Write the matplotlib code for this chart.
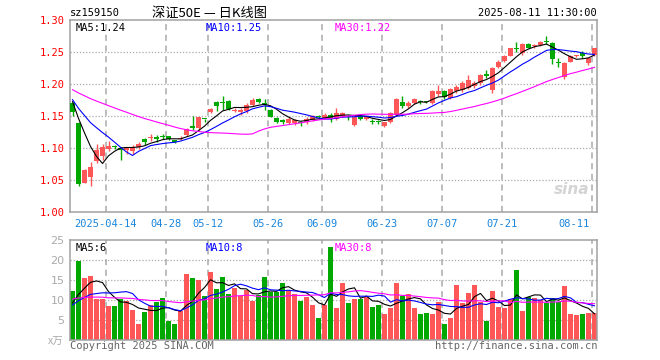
import numpy as np
import pandas as pd
import matplotlib
matplotlib.use('Agg')
import matplotlib.pyplot as plt

# 日K数据 (2025-04-03 .. 2025-08-11), 读图估计
opens = [1.170, 1.139, 1.046, 1.054, 1.080, 1.088, 1.099, 1.103, 1.100, 1.097,
         1.096, 1.101, 1.114, 1.116, 1.117, 1.119, 1.118, 1.112, 1.114, 1.121,
         1.134, 1.131, 1.146, 1.156, 1.172, 1.172, 1.174, 1.158, 1.156, 1.158,
         1.167, 1.176, 1.171, 1.160, 1.147, 1.144, 1.139, 1.139, 1.141, 1.140,
         1.144, 1.149, 1.147, 1.152, 1.146, 1.150, 1.150, 1.136, 1.150, 1.146,
         1.142, 1.141, 1.135, 1.141, 1.152, 1.172, 1.165, 1.170, 1.173, 1.173,
         1.170, 1.184, 1.189, 1.178, 1.189, 1.190, 1.194, 1.197, 1.201, 1.215,
         1.190, 1.227, 1.236, 1.244, 1.256, 1.248, 1.263, 1.260, 1.261, 1.267,
         1.264, 1.235, 1.211, 1.235, 1.244, 1.248, 1.233, 1.245]
highs = [1.172, 1.140, 1.067, 1.078, 1.106, 1.106, 1.111, 1.104, 1.101, 1.102,
         1.104, 1.110, 1.115, 1.122, 1.121, 1.122, 1.119, 1.113, 1.118, 1.132,
         1.150, 1.149, 1.146, 1.163, 1.173, 1.181, 1.175, 1.163, 1.163, 1.170,
         1.178, 1.178, 1.177, 1.161, 1.148, 1.145, 1.149, 1.146, 1.142, 1.148,
         1.151, 1.152, 1.155, 1.154, 1.162, 1.157, 1.152, 1.149, 1.152, 1.150,
         1.146, 1.143, 1.141, 1.156, 1.178, 1.181, 1.174, 1.178, 1.175, 1.174,
         1.190, 1.199, 1.190, 1.193, 1.199, 1.204, 1.214, 1.205, 1.215, 1.222,
         1.227, 1.237, 1.245, 1.257, 1.265, 1.264, 1.264, 1.263, 1.267, 1.275,
         1.266, 1.240, 1.235, 1.245, 1.246, 1.251, 1.241, 1.257]
lows = [1.150, 1.040, 1.045, 1.041, 1.077, 1.081, 1.096, 1.098, 1.082, 1.090,
        1.091, 1.098, 1.105, 1.111, 1.110, 1.114, 1.112, 1.108, 1.112, 1.119,
        1.128, 1.128, 1.140, 1.154, 1.158, 1.160, 1.160, 1.156, 1.152, 1.155,
        1.165, 1.170, 1.160, 1.148, 1.139, 1.138, 1.137, 1.136, 1.134, 1.138,
        1.142, 1.145, 1.145, 1.141, 1.143, 1.148, 1.144, 1.135, 1.143, 1.144,
        1.137, 1.137, 1.133, 1.139, 1.150, 1.163, 1.163, 1.168, 1.168, 1.170,
        1.168, 1.182, 1.176, 1.177, 1.186, 1.188, 1.192, 1.194, 1.199, 1.210,
        1.186, 1.225, 1.234, 1.243, 1.250, 1.245, 1.256, 1.257, 1.259, 1.263,
        1.232, 1.227, 1.208, 1.234, 1.242, 1.240, 1.230, 1.243]
closes = [1.157, 1.043, 1.066, 1.071, 1.097, 1.102, 1.103, 1.101, 1.097, 1.101,
          1.102, 1.107, 1.110, 1.117, 1.114, 1.117, 1.114, 1.110, 1.116, 1.130,
          1.132, 1.148, 1.145, 1.161, 1.165, 1.170, 1.161, 1.160, 1.160, 1.167,
          1.175, 1.172, 1.167, 1.149, 1.140, 1.140, 1.146, 1.144, 1.139, 1.146,
          1.150, 1.148, 1.152, 1.147, 1.155, 1.155, 1.149, 1.148, 1.146, 1.148,
          1.141, 1.140, 1.140, 1.154, 1.176, 1.166, 1.170, 1.177, 1.172, 1.172,
          1.189, 1.189, 1.179, 1.192, 1.196, 1.201, 1.206, 1.202, 1.214, 1.212,
          1.225, 1.235, 1.243, 1.256, 1.254, 1.263, 1.257, 1.261, 1.266, 1.265,
          1.239, 1.233, 1.233, 1.243, 1.245, 1.243, 1.240, 1.256]
# 成交量 (万)
volumes = [12.2, 19.8, 15.6, 16.0, 10.2, 10.2, 8.5, 8.5, 10.2, 9.7,
           7.5, 4.1, 7.0, 8.7, 9.5, 10.5, 4.8, 4.0, 7.3, 16.6,
           15.6, 15.0, 11.1, 17.0, 12.8, 15.8, 11.5, 13.1, 11.0, 12.5,
           9.8, 11.2, 15.8, 12.0, 12.0, 14.3, 12.6, 11.5, 9.8, 10.8,
           8.8, 5.6, 8.8, 23.3, 8.1, 14.3, 9.3, 10.25, 10.25, 10.8,
           8.3, 8.75, 6.5, 8.1, 14.3, 11.0, 11.5, 8.1, 6.5, 6.75,
           6.5, 9.6, 4.0, 5.6, 13.75, 9.3, 11.8, 13.75, 9.6, 4.8,
           12.25, 8.3, 8.1, 10.25, 17.5, 7.25, 10.8, 10.6, 10.0, 9.2,
           10.6, 9.4, 13.5, 6.5, 6.25, 6.5, 6.75, 6.75]
# 图前29个交易日(用于均线起点)
prior_close = [1.195, 1.200, 1.205, 1.210, 1.208, 1.212, 1.206, 1.203, 1.199, 1.204,
               1.207, 1.201, 1.196, 1.198, 1.193, 1.190, 1.194, 1.188, 1.185,
               1.183, 1.180, 1.178, 1.182, 1.176, 1.178, 1.174, 1.179, 1.177, 1.175]
prior_vol = [12.5, 10.8, 14.2, 9.6, 11.3, 13.1, 8.9, 10.4, 12.0, 9.2,
             11.7, 10.1, 13.4, 9.8, 10.6, 12.2, 8.7, 11.5, 10.3, 9.7,
             8.9, 7.6, 8.4, 8.1, 8.25, 9.1, 7.8, 8.6, 8.55]

tick_idx = [6, 16, 23, 33, 42, 52, 62, 72, 87]
tick_labels = ['2025-04-14', '04-28', '05-12', '05-26', '06-09',
               '06-23', '07-07', '07-21', '08-11']
price_levels = [1.00, 1.05, 1.10, 1.15, 1.20, 1.25, 1.30]
vol_levels = [5, 10, 15, 20, 25]

RED = '#ff5757'
GREEN = '#00a800'
GRID = '#aaaaaa'
MONO = 'DejaVu Sans Mono'
CJK = ['Noto Sans CJK SC', 'DejaVu Sans']

o = np.array(opens)
h = np.array(highs)
l = np.array(lows)
c = np.array(closes)
v = np.array(volumes)
n = len(c)
x = np.arange(n)
up = c >= o
cols = np.where(up, RED, GREEN)

allc = pd.Series(prior_close + closes)
allv = pd.Series(prior_vol + volumes)
ma_p = {k: allc.rolling(k).mean().values[-n:] for k in (5, 10, 30)}
ma_v = {k: allv.rolling(k).mean().values[-n:] for k in (5, 10, 30)}
ma_col = {5: 'black', 10: '#0000ff', 30: '#ff00ff'}

fig = plt.figure(figsize=(6.6, 3.6), dpi=100)
ax = fig.add_axes([70 / 660, 1 - 212 / 360, 527 / 660, 192 / 360])
axv = fig.add_axes([70 / 660, 1 - 340 / 360, 527 / 660, 100 / 360])

off = -0.42  # 网格线在K线左侧
for a in (ax, axv):
    a.set_xlim(-0.42, n - 1 + 0.42)
    for s in a.spines.values():
        s.set_color('#a0a0a0')
        s.set_linewidth(1.1)
    a.set_xticks([])
    a.tick_params(axis='y', length=0, pad=4)
    for t in tick_idx:
        a.axvline(t + off, color=GRID, lw=1.1, ls=(0, (4, 3)), zorder=0)

# K线
ax.set_ylim(1.00, 1.30)
for lv in price_levels[1:-1]:
    ax.axhline(lv, color=GRID, lw=0.9, ls=(0, (1, 1.5)), zorder=0)
ax.vlines(x, l, h, colors=cols, lw=1.0, zorder=2)
body = np.maximum(np.abs(c - o), 0.0017)
ax.bar(x, body, bottom=np.minimum(o, c), width=0.82, color=cols,
       linewidth=0, zorder=3)
for k in (5, 10, 30):
    ax.plot(x, ma_p[k], color=ma_col[k], lw=0.8, zorder=4)
ax.set_yticks(price_levels)
ax.set_yticklabels([f'{lv:.2f}' for lv in price_levels], color='red',
                   fontsize=7.5, family=MONO)

ax.text(0.01, 0.985, 'MA5:1.24', transform=ax.transAxes, color='black',
        fontsize=7.5, family=MONO, va='top')
ax.text(0.257, 0.985, 'MA10:1.25', transform=ax.transAxes, color='#0000ff',
        fontsize=7.5, family=MONO, va='top')
ax.text(0.503, 0.985, 'MA30:1.22', transform=ax.transAxes, color='#ff00ff',
        fontsize=7.5, family=MONO, va='top')
ax.text(0.985, 0.08, 'sina', transform=ax.transAxes, color='#d4d4d4',
        fontsize=11, fontweight='bold', style='italic', ha='right', va='bottom')

# 日期标签
for t, lab in zip(tick_idx, tick_labels):
    if t == tick_idx[-1]:
        ax.annotate(lab, xy=(t + off, 0), xycoords=('data', 'axes fraction'),
                    xytext=(-2, -5), textcoords='offset points', ha='right',
                    va='top', color='#1a86dd', fontsize=7.5, family=MONO)
    else:
        ax.annotate(lab, xy=(t + off, 0), xycoords=('data', 'axes fraction'),
                    xytext=(0, -5), textcoords='offset points', ha='center',
                    va='top', color='#1a86dd', fontsize=7.5, family=MONO)

# 成交量
axv.set_ylim(0, 25)
for lv in vol_levels[:-1]:
    axv.axhline(lv, color=GRID, lw=0.9, ls=(0, (1, 1.5)), zorder=0)
axv.bar(x, v, width=0.82, color=cols, linewidth=0, zorder=2)
for k in (5, 10, 30):
    axv.plot(x, ma_v[k], color=ma_col[k], lw=0.8, zorder=4)
axv.set_yticks(vol_levels)
axv.set_yticklabels([str(lv) for lv in vol_levels], color='#aaaaaa',
                    fontsize=8, family='DejaVu Sans')
axv.text(0.01, 0.97, 'MA5:6', transform=axv.transAxes, color='black',
         fontsize=7.5, family=MONO, va='top')
axv.text(0.257, 0.97, 'MA10:8', transform=axv.transAxes, color='#0000ff',
         fontsize=7.5, family=MONO, va='top')
axv.text(0.503, 0.97, 'MA30:8', transform=axv.transAxes, color='#ff00ff',
         fontsize=7.5, family=MONO, va='top')

# 标题与页脚
fig.text(70 / 660, 1 - 13 / 360, 'sz159150', fontsize=7.5, family=MONO,
         va='center', ha='left')
fig.text(210 / 660, 1 - 13 / 360, '深证50E — 日K线图', fontsize=9.5,
         family=CJK, va='center', ha='center')
fig.text(597 / 660, 1 - 13 / 360, '2025-08-11 11:30:00', fontsize=7.5,
         family=MONO, va='center', ha='right')
fig.text(63 / 660, 1 - 342 / 360, 'x万', fontsize=7.5, family=CJK,
         color='#aaaaaa', va='center', ha='right')
fig.text(70 / 660, 1 - 346 / 360, 'Copyright 2025 SINA.COM', fontsize=7.5,
         family=MONO, color='#666666', va='center', ha='left')
fig.text(597 / 660, 1 - 346 / 360, 'http://finance.sina.com.cn', fontsize=7.5,
         family=MONO, color='#666666', va='center', ha='right')

fig.savefig('out.png', dpi=100)
